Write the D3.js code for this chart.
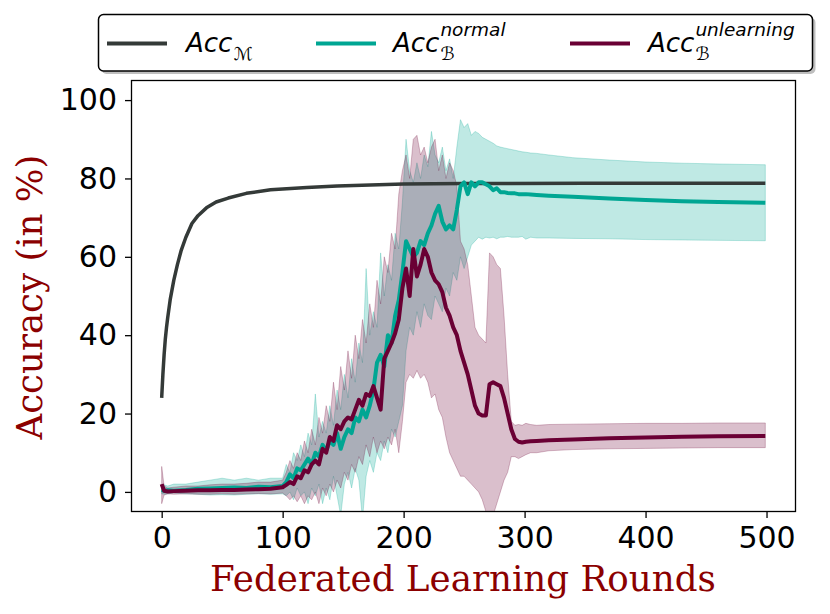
<!DOCTYPE html>
<meta charset="utf-8">
<style>
body { margin: 0; background: #fff; }
.axis text { font-family: "DejaVu Sans"; font-size: 30px; fill: #000; }
.axis line { stroke: #000; stroke-width: 1.3px; }
.axis path { display: none; }
.label { font-family: "DejaVu Serif"; fill: #8b0000; }
.leg { font-family: "DejaVu Sans"; fill: #000; }
.cal { font-family: "DejaVu Serif", "DejaVu Sans"; fill: #000; }
</style>
<body>
<script src="https://d3js.org/d3.v7.min.js"></script>
<script>

// ---- data ----
var xTicks = [0, 100, 200, 300, 400, 500];
var yTicks = [0, 20, 40, 60, 80, 100];

// Acc_M (global model)
var roundsM = [0, 1, 2, 3, 4, 5, 7, 10, 13, 16, 20, 25, 30, 37, 45, 55, 70, 90, 120, 145, 200, 250, 350, 499];
var accM = [24, 30, 35, 39, 42, 44.5, 49, 54, 58, 61.5, 65, 68.5, 70.5, 72.5, 74, 75, 76.2, 77.1, 77.7, 78.1, 78.6, 78.7, 78.8, 78.8];

// backdoor accuracy, both runs share the same rounds
var roundsB = [0, 2, 5, 10, 20, 30, 40, 50, 60, 70, 80, 90, 100,
  103, 106, 109, 112, 115, 118, 121, 124, 127, 130,
  133, 136, 139, 142, 145, 148, 151, 154, 157, 160,
  163, 166, 169, 172, 175, 178, 181, 184, 187, 190,
  193, 196, 199, 202, 205, 208, 211, 214, 217, 220,
  223, 226, 229, 232, 235, 238, 241, 244, 247, 250,
  253, 256, 259, 262, 265, 268, 271, 274, 277, 280,
  283, 286, 289, 292, 295, 298, 301,
  305, 310, 320, 340, 370, 400, 430, 460, 499];

var normMean = [0.5, 0.3, 0.4, 0.3, 0.5, 0.8, 0.9, 1.0, 1.1, 1.0, 1.3, 1.2, 1.5,
  2.5, 4.5, 3.5, 6, 5.5, 7, 8.5, 7, 10, 9,
  12, 10.5, 13, 12, 15, 11, 14, 16, 15, 19,
  18, 21, 19, 22, 26, 33, 35, 32, 40, 38,
  45, 49, 56, 64, 62, 60, 61, 64, 63, 66,
  68, 71, 73, 69, 67, 68, 67, 72, 78, 79,
  76, 79, 78, 79, 79, 78.5, 78, 77, 77.5, 76.5,
  76.5, 76.3, 76.2, 76.2, 76, 76, 76,
  75.9, 75.8, 75.6, 75.3, 74.9, 74.5, 74.2, 74, 73.8];
var normHigh = [1.5, 1.8, 1.5, 2, 2, 2.5, 3, 3.5, 3, 3.5, 3, 3.5, 3.5,
  7, 5, 10, 8, 12, 9, 15, 12, 25, 14,
  18, 15, 22, 17, 26, 21, 30, 24, 34, 28,
  38, 33, 57, 40, 46, 42, 61, 50, 58, 54,
  66, 62, 74, 90, 82, 79, 84, 80, 86, 83,
  92, 86, 84, 88, 82, 85, 80, 88, 95, 93,
  94, 91, 92, 91.5, 90.5, 90, 89.5, 89, 88.3, 88,
  87.8, 87.6, 87.4, 87.2, 87, 86.8, 86.7,
  86.5, 86.4, 86, 85.3, 84.7, 84.2, 83.9, 83.7, 83.5];
var normLow = [-0.5, -0.6, -0.5, -0.3, -0.5, -0.6, -0.8, -0.7, -0.8, -0.6, -0.5, -0.6, -0.5,
  -1, 0, -2, 1, -1, 0, -3, 1, -1, 2,
  -3, 1, -2, 4, -1, -6, 2, 5, 1, 6,
  3, -7, 4, 8, 5, 10, 8, 13, 10, 16,
  14, 18, 22, 36, 42, 40, 46, 42, 48, 45,
  44, 50, 48, 46, 52, 50, 56, 54, 60, 57,
  60, 63, 64, 65, 64.5, 65, 64.8, 65, 64.6, 65,
  65, 65.2, 65, 65, 65, 65.2, 64.5,
  65, 64.8, 64.8, 64.7, 64.6, 64.4, 64.3, 64.2, 64.1];

var unlMean = [2, 0.3, 0.1, 0.2, 0.3, 0.4, 0.4, 0.5, 0.5, 0.6, 0.7, 0.8, 1.2,
  1.8, 2.5, 2, 4, 3.5, 5.5, 5, 7, 8, 7,
  11, 10, 14, 13, 17, 16, 18, 19, 18.5, 21,
  23.5, 22, 25, 24.5, 27, 24, 21, 34, 36, 38,
  40.5, 44, 52, 57, 50, 62, 55, 58, 62, 60,
  56, 54, 53, 51, 47, 45, 42, 40, 36, 33,
  30, 26, 22, 20, 19.5, 19.5, 27.5, 28, 27.5, 27,
  24, 20, 16, 13.5, 12.8, 12.6, 12.8,
  12.9, 13, 13.2, 13.4, 13.7, 13.9, 14.1, 14.2, 14.3];
var unlHigh = [6.5, 1.5, 1, 1.2, 1.5, 1.5, 1.8, 2, 2, 2.2, 2.5, 2.5, 3,
  5, 8, 6, 10, 8, 13, 10, 16, 12, 19,
  15, 22, 18, 28, 21, 32, 26, 36, 29, 40,
  34, 44, 38, 48, 42, 54, 48, 60, 56, 66,
  62, 76, 82, 86, 80, 90, 91, 86, 88, 84,
  88, 90, 82, 86, 80, 84, 82, 78, 64, 62,
  58, 50, 42, 40, 39, 38, 61, 60, 58, 57,
  45, 30, 18, 17, 17.2, 17, 17.5,
  17.2, 17, 17.2, 17.3, 17.4, 17.5, 17.5, 17.6, 17.6];
var unlLow = [-3, -0.8, -0.5, -0.6, -0.5, -0.6, -0.6, -0.5, -0.6, -0.5, -0.4, -0.5, -0.3,
  -1, -2, -1, -2.5, -1, -3, -1, -2, 0, -3,
  1, -1, 2, 0, 3, 1, 5, 3, 7, 5,
  9, 7, 12, 9, 14, 10, 13, 11, 14, 12,
  16, 10, 18, 28, 30, 29, 31, 29, 30, 28,
  24, 25, 21, 19, 14, 10, 8, 6, 4, 4,
  3, 2, 1, 0, -2, -5, -7, -6, -3, 0,
  3, 5, 9, 9, 8.5, 9, 9.5,
  10, 10, 10.5, 10.8, 11, 11.1, 11.2, 11.3, 11.3];

var cM = "#343a38", cN = "#00a693", cU = "#6a0034";

// ---- chart ----
var svg = d3.select("body").append("svg")
    .attr("width", 830)
    .attr("height", 614);

var x = d3.scaleLinear().domain([-24.95, 523.95]).range([131.5, 795.5]);
var y = d3.scaleLinear().domain([-5, 105]).range([511.5, 80.5]);

svg.append("clipPath").attr("id", "plot")
  .append("rect")
    .attr("x", 131.5).attr("y", 80.5)
    .attr("width", 664).attr("height", 431);

var g = svg.append("g").attr("clip-path", "url(#plot)");

function band(low, high, color) {
  var area = d3.area()
      .x(function(d, i) { return x(roundsB[i]); })
      .y0(function(d, i) { return y(low[i]); })
      .y1(function(d, i) { return y(high[i]); });
  g.append("path")
      .datum(low)
      .attr("d", area)
      .attr("fill", color)
      .attr("fill-opacity", 0.25)
      .attr("stroke", color)
      .attr("stroke-opacity", 0.25)
      .attr("stroke-width", 1);
}

function curve(xs, ys, color, w) {
  var line = d3.line()
      .x(function(d, i) { return x(xs[i]); })
      .y(function(d) { return y(d); });
  g.append("path")
      .datum(ys)
      .attr("d", line)
      .attr("fill", "none")
      .attr("stroke", color)
      .attr("stroke-width", w)
      .attr("stroke-linejoin", "round");
}

band(normLow, normHigh, cN);
band(unlLow, unlHigh, cU);
curve(roundsM, accM, cM, 3.5);
curve(roundsB, normMean, cN, 4);
curve(roundsB, unlMean, cU, 4);

// frame
svg.append("rect")
    .attr("x", 131.5).attr("y", 80.5)
    .attr("width", 664).attr("height", 431)
    .attr("fill", "none")
    .attr("stroke", "#000")
    .attr("stroke-width", 1.3);

// axes
svg.append("g")
    .attr("class", "axis")
    .attr("transform", "translate(0,511.5)")
    .call(d3.axisBottom(x).tickValues(xTicks).tickSize(6.5).tickPadding(9))
    .attr("font-family", null).attr("font-size", null);

svg.append("g")
    .attr("class", "axis")
    .attr("transform", "translate(131.5,0)")
    .call(d3.axisLeft(y).tickValues(yTicks).tickSize(6.5).tickPadding(8))
    .attr("font-family", null).attr("font-size", null);

// axis labels, fitted to the measured widths
function fitLabel(sel, target) {
  var len = sel.node().getComputedTextLength();
  sel.style("font-size", (30 * target / len) + "px");
}

var xl = svg.append("text")
    .attr("class", "label")
    .attr("x", 463).attr("y", 591)
    .attr("text-anchor", "middle")
    .style("font-size", "30px")
    .text("Federated Learning Rounds");
fitLabel(xl, 506);

var yl = svg.append("text")
    .attr("class", "label")
    .attr("transform", "translate(42,297) rotate(-90)")
    .attr("text-anchor", "middle")
    .style("font-size", "30px")
    .text("Accuracy (in %)");
fitLabel(yl, 285);

// legend
svg.append("rect")
    .attr("x", 101.5).attr("y", 17.5)
    .attr("width", 714).attr("height", 56.5)
    .attr("rx", 5)
    .attr("fill", "#808080")
    .attr("fill-opacity", 0.5);
svg.append("rect")
    .attr("x", 98.5).attr("y", 14.5)
    .attr("width", 714).attr("height", 56.5)
    .attr("rx", 5)
    .attr("fill", "#fff")
    .attr("stroke", "#000")
    .attr("stroke-width", 1.5);

var legend = [
  {x0: 107, tx: 186, color: cM, sub: "\u2133", sup: null},
  {x0: 316, tx: 393, color: cN, sub: "\u212C", sup: "normal"},
  {x0: 570, tx: 648, color: cU, sub: "\u212C", sup: "unlearning"}
];

legend.forEach(function(d) {
  svg.append("line")
      .attr("x1", d.x0).attr("x2", d.x0 + 60)
      .attr("y1", 43.5).attr("y2", 43.5)
      .attr("stroke", d.color)
      .attr("stroke-width", 4);
  var t = svg.append("text")
      .attr("class", "leg")
      .attr("x", d.tx).attr("y", 51.5)
      .style("font-size", "26px")
      .style("font-style", "italic")
      .text("Acc");
  var w = t.node().getComputedTextLength();
  svg.append("text")
      .attr("class", "cal")
      .attr("x", d.tx + w + 1).attr("y", 59.5)
      .style("font-size", "18px")
      .text(d.sub);
  if (d.sup) {
    svg.append("text")
        .attr("class", "leg")
        .attr("x", d.tx + w + 1).attr("y", 36)
        .style("font-size", "18.5px")
        .style("font-style", "italic")
        .text(d.sup);
  }
});

</script>
</body>
